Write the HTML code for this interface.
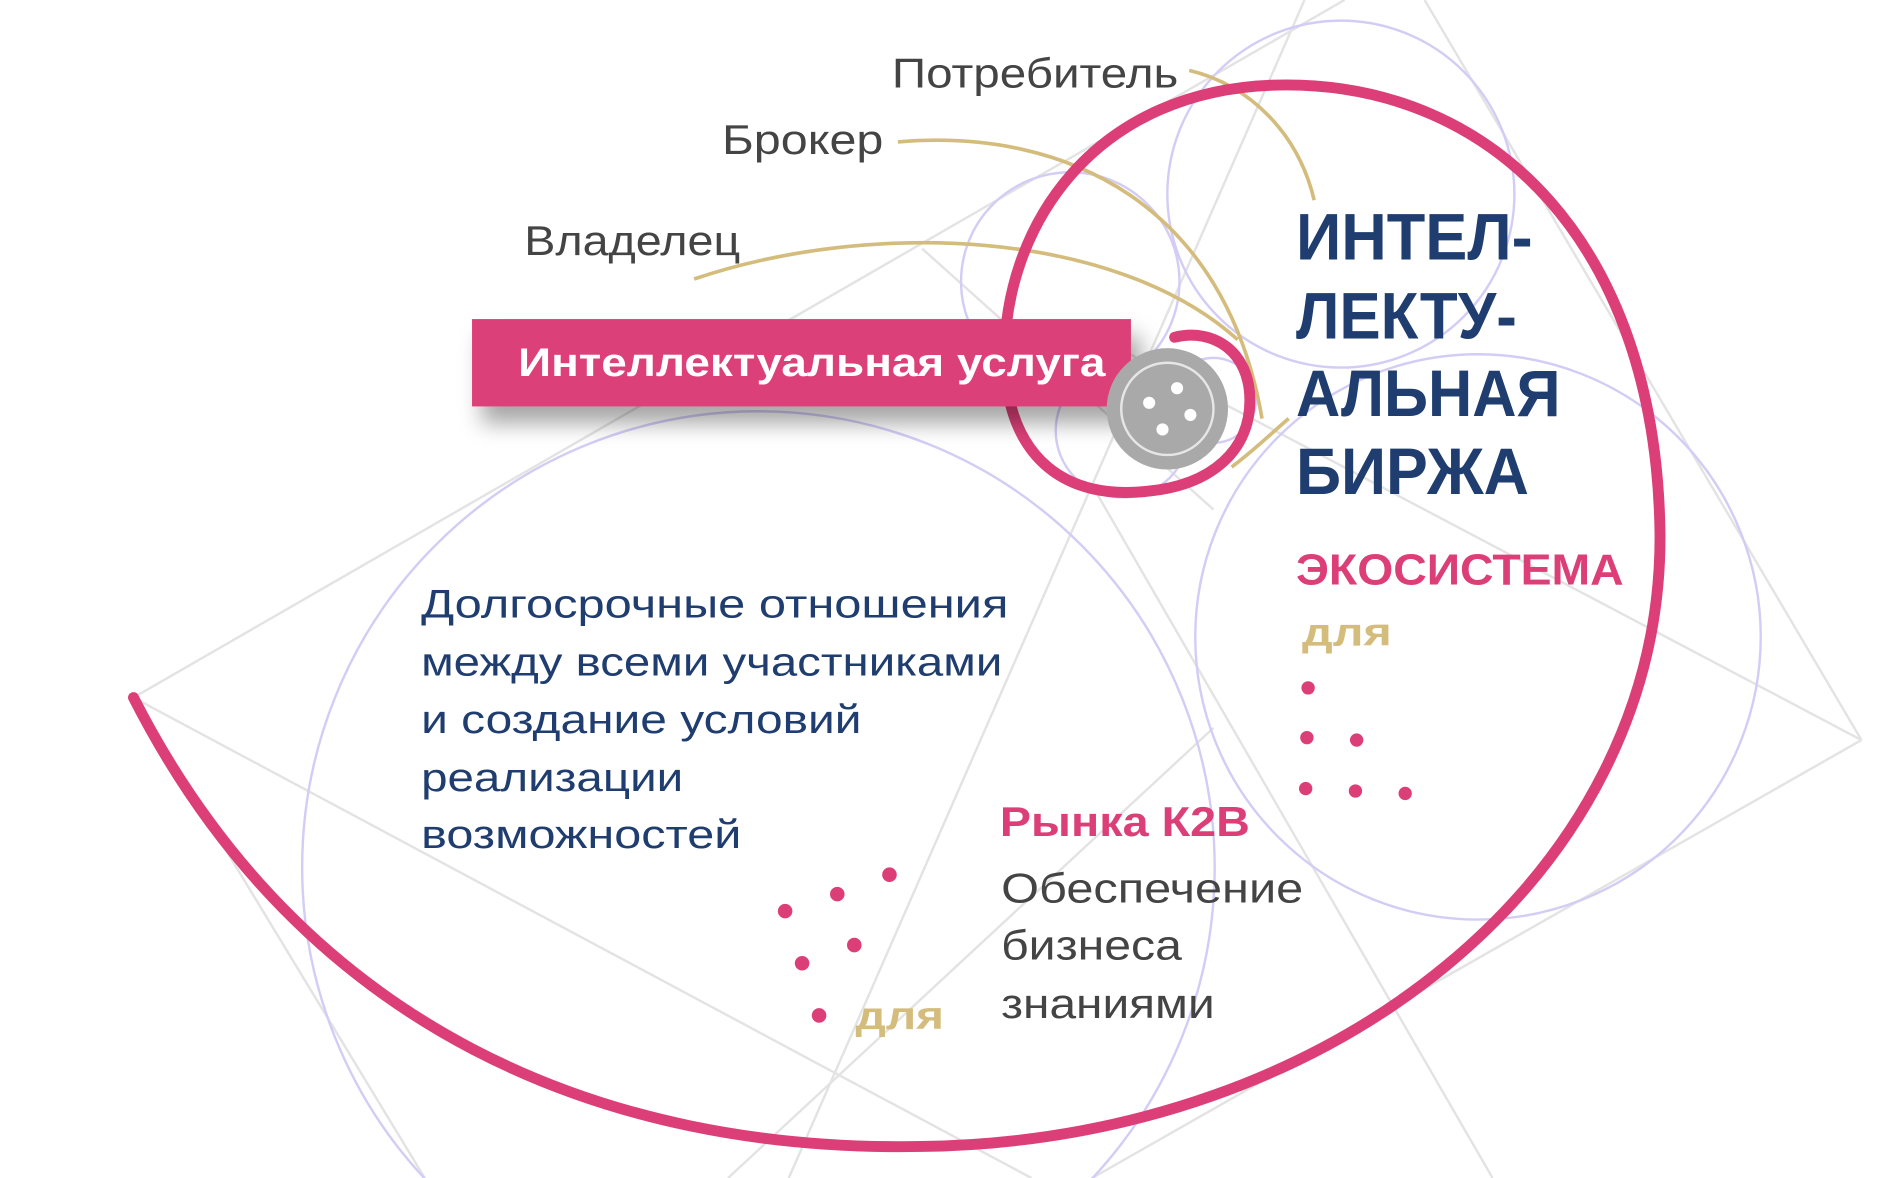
<!DOCTYPE html>
<html><head><meta charset="utf-8"><style>
html,body{margin:0;padding:0;background:#fff;width:1893px;height:1178px;overflow:hidden}
svg{display:block}
text{font-family:"Liberation Sans",sans-serif}
</style></head><body>
<svg width="1893" height="1178" viewBox="0 0 1560 971" preserveAspectRatio="none" xmlns="http://www.w3.org/2000/svg">
<defs>
<filter id="sh" x="-10%" y="-30%" width="125%" height="180%"><feDropShadow dx="8" dy="14" stdDeviation="9" flood-color="#000" flood-opacity="0.35"/></filter>
</defs>
<g stroke="#e3e3e3" stroke-width="2" fill="none">
<line x1="110" y1="575" x2="1108" y2="0"/>
<line x1="110" y1="575" x2="850" y2="971"/>
<line x1="110" y1="575" x2="350" y2="971"/>
<line x1="650" y1="971" x2="1075" y2="0"/>
<line x1="1534" y1="610" x2="1174" y2="0"/>
<line x1="1534" y1="610" x2="900" y2="971"/>
<line x1="1534" y1="610" x2="880" y2="265"/>
<line x1="900" y1="400" x2="1230" y2="971"/>
<line x1="760" y1="205" x2="1000" y2="420"/>
<line x1="600" y1="971" x2="1000" y2="600"/>
</g>
<g stroke="#d3cdf6" stroke-width="2" fill="none">
<circle cx="625" cy="715" r="376"/>
<circle cx="1218" cy="525" r="233"/>
<circle cx="1105" cy="160" r="143"/>
<circle cx="882" cy="232" r="90"/>
<circle cx="925" cy="355" r="55"/>
<circle cx="1000" cy="330" r="35"/>
</g>
<g stroke="#d4bc7c" stroke-width="3" fill="none">
<path d="M980,58 C1030,70 1070,110 1083,165"/>
<path d="M740,117 C880,105 1010,170 1040,345"/>
<path d="M572,230 C720,180 920,190 1020,280"/>
<path d="M1015,385 C1035,370 1050,355 1062,345"/>
</g>
<path d="M110,575 C250,850 500,950 760,945 C1100,940 1370,720 1368,440 C1365,200 1230,70 1060,70 C900,70 825,190 828,300 C832,380 880,412 945,405 C1000,400 1030,370 1030,330 C1030,290 1000,270 968,278" stroke="#dc3f78" stroke-width="9" fill="none" stroke-linecap="round"/>
<rect x="389" y="263" width="543" height="72" fill="#dc3f78" filter="url(#sh)"/>
<text x="427" y="310" font-size="33" font-weight="bold" fill="#fff" textLength="484" lengthAdjust="spacingAndGlyphs">Интеллектуальная услуга</text>
<circle cx="962" cy="337" r="50" fill="#a9a9a9"/>
<circle cx="962" cy="337" r="38" fill="none" stroke="#e6e6e6" stroke-width="2"/>
<g fill="#fff"><circle cx="970" cy="320" r="5"/><circle cx="981" cy="342" r="5"/><circle cx="958" cy="354" r="5"/><circle cx="947" cy="332" r="5"/></g>
<g font-size="34" fill="#444">
<text x="735" y="72" textLength="236" lengthAdjust="spacingAndGlyphs">Потребитель</text>
<text x="595" y="127" textLength="133" lengthAdjust="spacingAndGlyphs">Брокер</text>
<text x="432" y="210" textLength="178" lengthAdjust="spacingAndGlyphs">Владелец</text>
</g>
<g font-size="54" font-weight="bold" fill="#1f3d6f">
<text x="1068" y="214" textLength="195" lengthAdjust="spacingAndGlyphs">ИНТЕЛ-</text>
<text x="1068" y="279" textLength="182" lengthAdjust="spacingAndGlyphs">ЛЕКТУ-</text>
<text x="1068" y="343" textLength="218" lengthAdjust="spacingAndGlyphs">АЛЬНАЯ</text>
<text x="1068" y="407" textLength="192" lengthAdjust="spacingAndGlyphs">БИРЖА</text>
</g>
<text x="1068" y="482" font-size="36" font-weight="bold" fill="#dc3f78" textLength="270" lengthAdjust="spacingAndGlyphs">ЭКОСИСТЕМА</text>
<text x="1073" y="532" font-size="32" font-weight="bold" fill="#d4bc7c" textLength="74" lengthAdjust="spacingAndGlyphs">для</text>
<g fill="#dc3f78">
<circle cx="1078" cy="567" r="5.5"/><circle cx="1077" cy="608" r="5.5"/><circle cx="1118" cy="610" r="5.5"/>
<circle cx="1076" cy="650" r="5.5"/><circle cx="1117" cy="652" r="5.5"/><circle cx="1158" cy="654" r="5.5"/>
<circle cx="733" cy="721" r="6"/><circle cx="690" cy="737" r="6"/><circle cx="647" cy="751" r="6"/>
<circle cx="704" cy="779" r="6"/><circle cx="661" cy="794" r="6"/><circle cx="675" cy="837" r="6"/>
</g>
<text x="705" y="848" font-size="32" font-weight="bold" fill="#d4bc7c" textLength="73" lengthAdjust="spacingAndGlyphs">для</text>
<g font-size="33" fill="#1f3d6f">
<text x="347" y="509" textLength="484" lengthAdjust="spacingAndGlyphs">Долгосрочные отношения</text>
<text x="347" y="557" textLength="479" lengthAdjust="spacingAndGlyphs">между всеми участниками</text>
<text x="347" y="604" textLength="363" lengthAdjust="spacingAndGlyphs">и создание условий</text>
<text x="347" y="652" textLength="216" lengthAdjust="spacingAndGlyphs">реализации</text>
<text x="347" y="699" textLength="264" lengthAdjust="spacingAndGlyphs">возможностей</text>
</g>
<text x="824" y="689" font-size="34" font-weight="bold" fill="#dc3f78" textLength="206" lengthAdjust="spacingAndGlyphs">Рынка К2В</text>
<g font-size="34" fill="#444">
<text x="825" y="744" textLength="249" lengthAdjust="spacingAndGlyphs">Обеспечение</text>
<text x="825" y="791" textLength="149" lengthAdjust="spacingAndGlyphs">бизнеса</text>
<text x="825" y="839" textLength="176" lengthAdjust="spacingAndGlyphs">знаниями</text>
</g>
</svg>
</body></html>
